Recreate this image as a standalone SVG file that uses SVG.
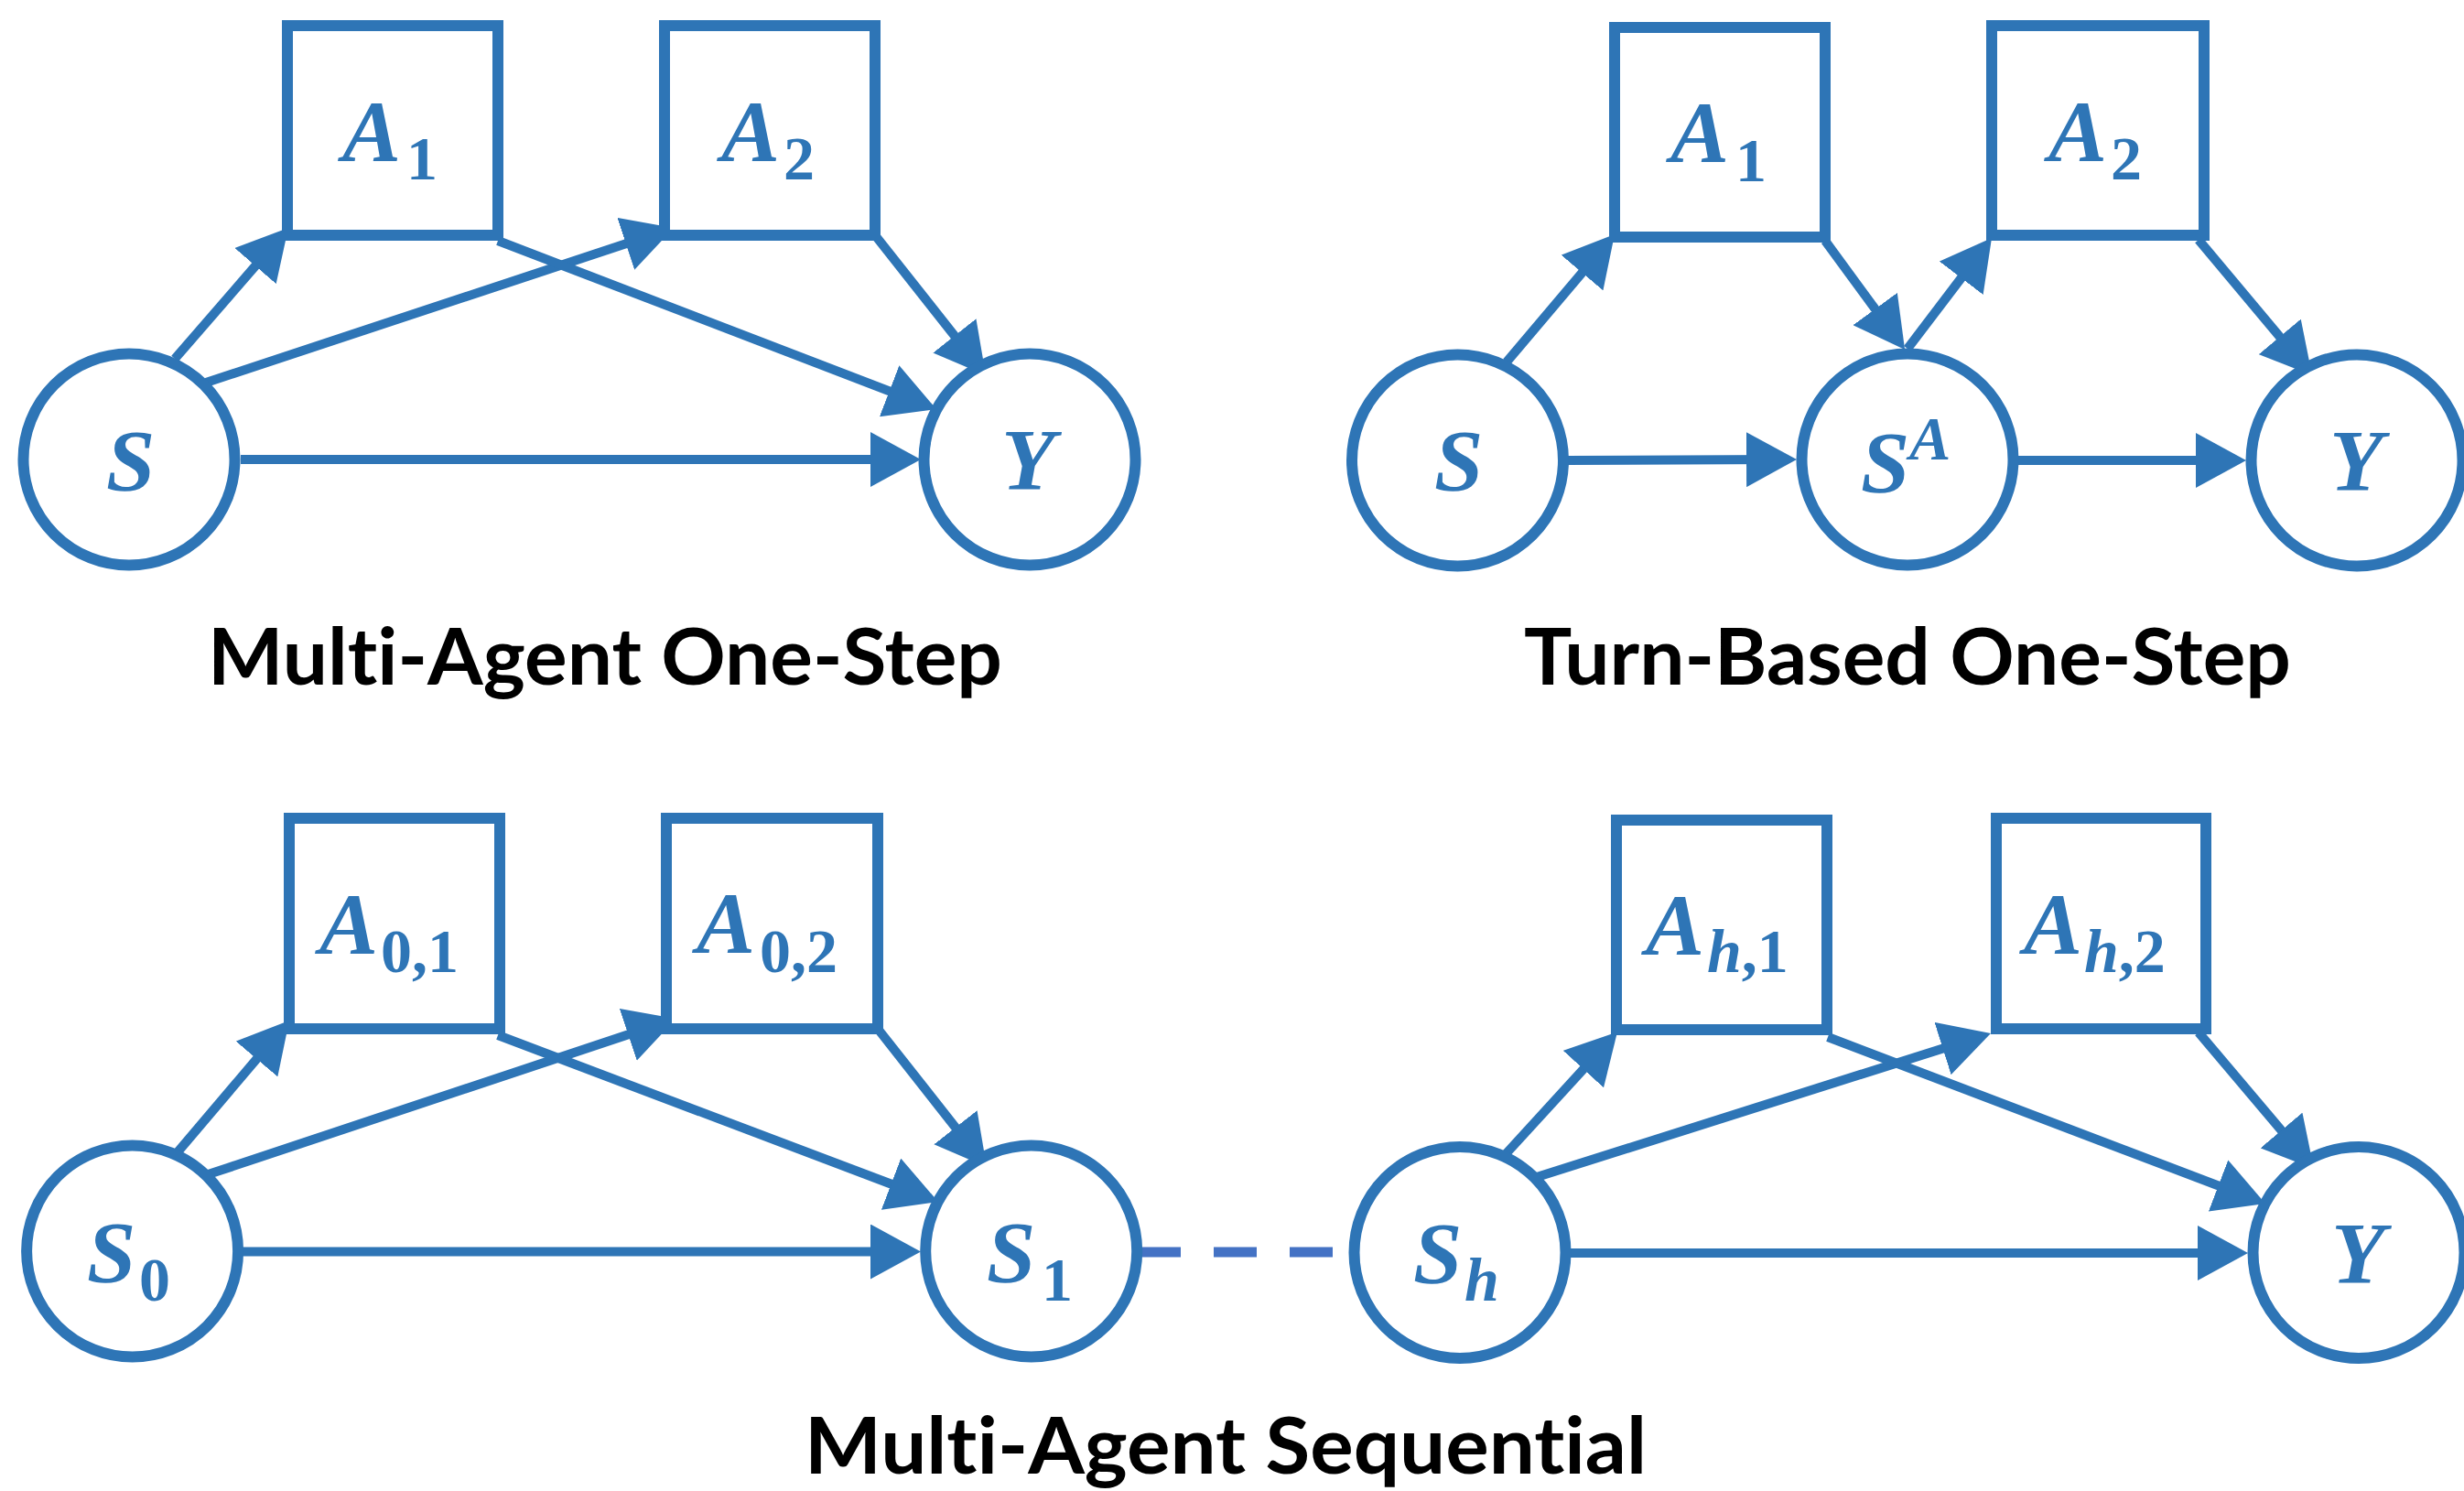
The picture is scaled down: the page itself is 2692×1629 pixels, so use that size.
<svg xmlns="http://www.w3.org/2000/svg" width="2692" height="1629" viewBox="0 0 2692 1629">
<style>
.n{fill:#fff;stroke:#2E75B6;stroke-width:12}
.e{fill:none;stroke:#2E75B6;stroke-width:10;marker-end:url(#ah)}
.d{fill:none;stroke:#4472C4;stroke-width:11;stroke-dasharray:47 36}
.m{font-family:"Liberation Serif","DejaVu Serif",serif;font-weight:bold;font-style:italic;font-size:96px;fill:#2E75B6}
.s{font-size:68px}
.u{font-style:normal}
.t{font-family:Lato,"Liberation Sans",sans-serif;font-weight:bold;font-size:87px;fill:#000;font-variant-ligatures:none;font-feature-settings:"liga" 0,"clig" 0}
</style>
<defs>
<marker id="ah" markerUnits="userSpaceOnUse" markerWidth="55" markerHeight="60" viewBox="0 0 55 60" refX="35" refY="30" orient="auto"><path d="M0,0 L55,30 L0,60 z" fill="#2E75B6"/></marker>
</defs>
<rect width="2692" height="1629" fill="#fff"/>
<g id="connectors">
<path class="e" d="M191,392 L301.9,264.1"/>
<path class="e" d="M225,418 L717,255.3"/>
<path class="e" d="M544,263 L1004.3,439.8"/>
<path class="e" d="M956,257 L1064.6,394.3"/>
<path class="e" d="M263,502 L986,502"/>
<path class="e" d="M1646,395.5 L1751.1,271.3"/>
<path class="e" d="M1713,503 L1943,502"/>
<path class="e" d="M1994,263 L2069.3,365.8"/>
<path class="e" d="M2084,381 L2163.9,275.9"/>
<path class="e" d="M2205,503 L2434,503"/>
<path class="e" d="M2402,262 L2513.2,394.7"/>
<path class="e" d="M193,1260 L303.1,1130.3"/>
<path class="e" d="M226,1283.6 L719.5,1119.3"/>
<path class="e" d="M544,1131 L1006.3,1306"/>
<path class="e" d="M959,1124 L1065.6,1259.3"/>
<path class="e" d="M265,1367.5 L986,1367.5"/>
<path class="d" d="M1243,1368 L1458,1368"/>
<path class="e" d="M1644,1262 L1753.5,1142.3"/>
<path class="e" d="M1679,1286 L2155.9,1135"/>
<path class="e" d="M1997,1133 L2456.3,1307.9"/>
<path class="e" d="M2402,1128 L2515.1,1261.7"/>
<path class="e" d="M1715,1369 L2436,1369"/>
</g>
<g id="p1-S"><circle class="n" cx="141" cy="502" r="115.5"/><text class="m" x="116" y="536">S</text></g>
<g id="p1-A1"><rect class="n" x="314" y="28" width="230" height="229"/><text class="m" x="374" y="176">A<tspan class="s u" x="444" y="196">1</tspan></text></g>
<g id="p1-A2"><rect class="n" x="726" y="28" width="230" height="229"/><text class="m" x="788" y="176">A<tspan class="s u" x="856" y="196">2</tspan></text></g>
<g id="p1-Y"><circle class="n" cx="1125" cy="502" r="115.5"/><text class="m" x="1094" y="535">Y</text></g>
<g id="p2-S"><circle class="n" cx="1592.5" cy="503" r="115.5"/><text class="m" x="1567" y="536">S</text></g>
<g id="p2-A1"><rect class="n" x="1764" y="30" width="230" height="229"/><text class="m" x="1825" y="177">A<tspan class="s u" x="1896" y="198">1</tspan></text></g>
<g id="p2-SA"><circle class="n" cx="2084" cy="502" r="115.5"/><text class="m" x="2033" y="538">S<tspan class="s" x="2086" y="502">A</tspan></text></g>
<g id="p2-A2"><rect class="n" x="2176" y="28" width="232" height="229"/><text class="m" x="2238" y="176">A<tspan class="s u" x="2306" y="196">2</tspan></text></g>
<g id="p2-Y"><circle class="n" cx="2575" cy="503" r="115.5"/><text class="m" x="2545" y="536">Y</text></g>
<g id="p3-S0"><circle class="n" cx="144.6" cy="1367" r="115.5"/><text class="m" x="95" y="1401">S<tspan class="s u" x="152" y="1421">0</tspan></text></g>
<g id="p3-A01"><rect class="n" x="316" y="894" width="230" height="230"/><text class="m" x="349" y="1042">A<tspan class="s u" x="416" y="1062">0,1</tspan></text></g>
<g id="p3-A02"><rect class="n" x="728" y="894" width="231" height="230"/><text class="m" x="761" y="1041">A<tspan class="s u" x="830" y="1062">0,2</tspan></text></g>
<g id="p3-S1"><circle class="n" cx="1126.7" cy="1367" r="115.5"/><text class="m" x="1078" y="1401">S<tspan class="s u" x="1138" y="1421">1</tspan></text></g>
<g id="p3-Sh"><circle class="n" cx="1595" cy="1368.5" r="115.5"/><text class="m" x="1544" y="1402">S<tspan class="s" x="1600" y="1421">h</tspan></text></g>
<g id="p3-Ah1"><rect class="n" x="1766" y="896" width="230" height="229"/><text class="m" x="1798" y="1043">A<tspan class="s" x="1865" y="1062">h</tspan><tspan class="s u">,1</tspan></text></g>
<g id="p3-Ah2"><rect class="n" x="2181" y="894" width="229" height="230"/><text class="m" x="2211" y="1042">A<tspan class="s" x="2277" y="1062">h</tspan><tspan class="s u">,2</tspan></text></g>
<g id="p3-Y"><circle class="n" cx="2577" cy="1368.5" r="115.5"/><text class="m" x="2547" y="1402">Y</text></g>
<g id="labels">
<text class="t" x="227" y="748" textLength="868" lengthAdjust="spacingAndGlyphs">Multi-Agent One-Step</text>
<text class="t" x="1665" y="748" textLength="838" lengthAdjust="spacingAndGlyphs">Turn-Based One-Step</text>
<text class="t" x="879" y="1610" textLength="920" lengthAdjust="spacingAndGlyphs">Multi-Agent Sequential</text>
</g>
</svg>
